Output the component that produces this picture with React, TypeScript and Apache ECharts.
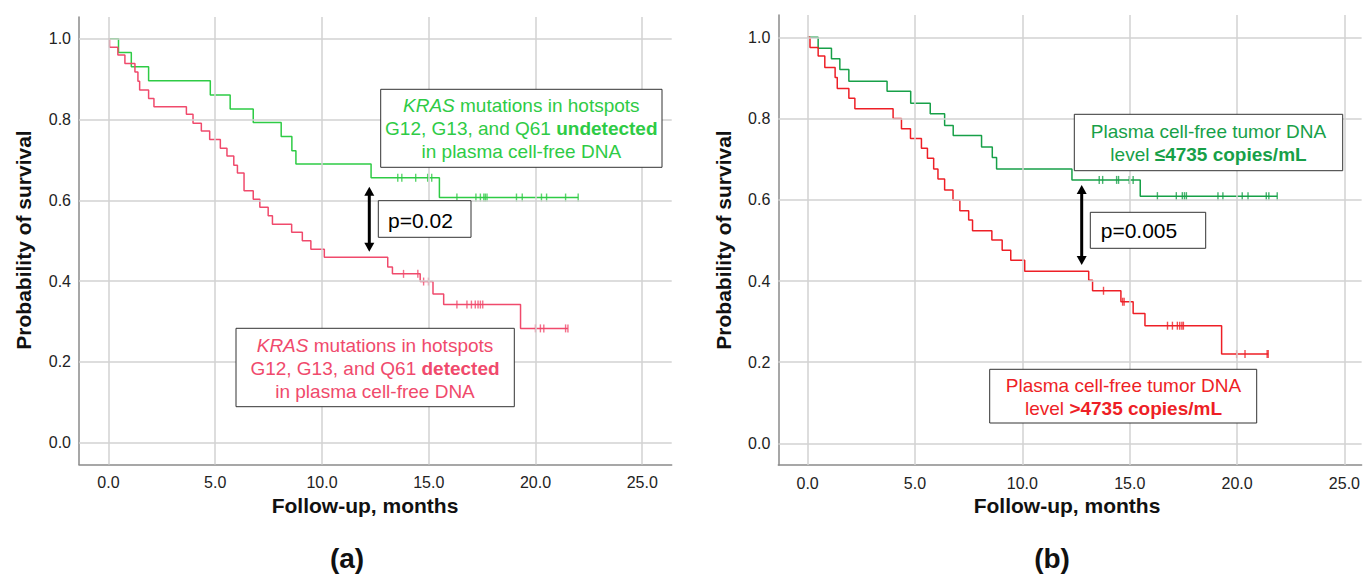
import React, { useEffect, useRef } from "react";
import * as echarts from "echarts";

// ---------- data ----------
const xTicks = [0, 5, 10, 15, 20, 25];
const yTicks = [0, 0.2, 0.4, 0.6, 0.8, 1.0];

// Panel (a): KRAS undetected (green)
const aGreenEventT = [0.47, 1.07, 1.88, 4.77, 5.7, 6.78, 8.09, 8.59, 8.78, 12.3, 15.5];
const aGreenEventS = [0.966, 0.931, 0.896, 0.861, 0.826, 0.793, 0.758, 0.723, 0.69, 0.656, 0.607];
const aGreenCensorT = [13.55, 13.74, 14.39, 14.95, 15.14, 16.32, 17.21, 17.42, 17.58, 17.65, 17.73, 19.11, 19.38, 20.28, 20.52, 21.41, 22.0];

// Panel (a): KRAS detected (red)
const aRedEventT = [0.05, 0.44, 0.77, 1.24, 1.38, 1.46, 1.88, 2.13, 3.65, 3.96, 4.35, 4.74, 5.24, 5.55, 5.87, 6.04, 6.35, 6.78, 7.09, 7.48, 7.68, 8.58, 9.08, 9.48, 10.11, 13.08, 13.3, 14.6, 15.2, 15.7, 19.3];
const aRedEventS = [0.979, 0.96, 0.939, 0.918, 0.895, 0.873, 0.852, 0.832, 0.813, 0.791, 0.772, 0.751, 0.729, 0.71, 0.687, 0.668, 0.624, 0.603, 0.583, 0.562, 0.541, 0.521, 0.5, 0.479, 0.459, 0.435, 0.418, 0.399, 0.368, 0.342, 0.283];
const aRedCensorT = [13.82, 14.49, 14.76, 14.99, 16.32, 16.79, 17.0, 17.18, 17.31, 17.42, 17.53, 20.0, 20.23, 20.39, 21.41, 21.52];

// Panel (b): ctDNA <= 4735 (green)
const bGreenEventT = [0.49, 1.11, 1.5, 1.92, 3.7, 4.8, 5.71, 6.38, 6.78, 8.1, 8.6, 8.8, 12.31, 15.49];
const bGreenEventS = [0.973, 0.947, 0.921, 0.892, 0.867, 0.838, 0.812, 0.783, 0.758, 0.73, 0.704, 0.676, 0.649, 0.609];
const bGreenCensorT = [13.58, 13.74, 14.39, 14.48, 14.98, 15.16, 16.29, 17.17, 17.45, 17.55, 17.64, 19.11, 19.34, 20.24, 20.51, 21.36, 21.48, 21.87];

// Panel (b): ctDNA > 4735 (red)
const bRedEventT = [0.11, 0.49, 0.8, 1.28, 1.38, 1.92, 2.2, 3.98, 4.37, 4.79, 5.3, 5.58, 5.87, 6.07, 6.38, 6.77, 7.09, 7.5, 7.68, 8.58, 9.06, 9.46, 10.11, 13.09, 13.27, 14.59, 15.16, 15.71, 19.28];
const bRedEventS = [0.975, 0.954, 0.926, 0.901, 0.874, 0.85, 0.824, 0.8, 0.775, 0.751, 0.727, 0.702, 0.676, 0.651, 0.624, 0.599, 0.573, 0.55, 0.524, 0.501, 0.476, 0.451, 0.424, 0.402, 0.376, 0.349, 0.32, 0.29, 0.22];
const bRedCensorT = [13.78, 14.67, 14.74, 16.76, 16.99, 17.22, 17.33, 17.43, 17.5, 19.98, 20.37, 21.4, 21.45];

// ---------- helpers ----------
const FONT = '"Liberation Sans", Arial, Helvetica, sans-serif';

function stepData(ts: number[], ss: number[], end: number) {
  const pts: number[][] = [[0, 1]];
  let prev = 1;
  ts.forEach((t, i) => {
    pts.push([t, prev]);
    pts.push([t, ss[i]]);
    prev = ss[i];
  });
  pts.push([end, prev]);
  return pts;
}
function survAt(ts: number[], ss: number[], t: number) {
  let s = 1;
  for (let i = 0; i < ts.length; i++) if (ts[i] <= t) s = ss[i];
  return s;
}
function censorData(ts: number[], ss: number[], cs: number[]) {
  return cs.map((c) => [c, survAt(ts, ss, c)]);
}

const C = {
  aGreen: "#2ecb45",
  aRed: "#f04a6c",
  bGreen: "#17a048",
  bRed: "#ee1f26",
};

function curveSeries(idx: number, ts: number[], ss: number[], cs: number[], color: string, name: string) {
  const end = Math.max(...cs);
  return [
    {
      name,
      type: "line",
      xAxisIndex: idx,
      yAxisIndex: idx,
      data: stepData(ts, ss, end),
      showSymbol: false,
      symbol: "none",
      lineStyle: { color, width: 1.5 },
      z: 3,
      silent: true,
    },
    {
      name: name + " censored",
      type: "scatter",
      xAxisIndex: idx,
      yAxisIndex: idx,
      data: censorData(ts, ss, cs),
      symbol: "rect",
      symbolSize: [1.4, 8],
      itemStyle: { color },
      z: 4,
      silent: true,
    },
  ];
}

function gridSeries(idx: number) {
  return {
    type: "line",
    xAxisIndex: idx,
    yAxisIndex: idx,
    data: [[0, 1]],
    symbol: "none",
    lineStyle: { width: 0, opacity: 0 },
    z: 1,
    silent: true,
    markLine: {
      silent: true,
      symbol: ["none", "none"],
      label: { show: false },
      lineStyle: { color: "#d2d2d2", width: 1.5, type: "solid" },
      emphasis: { disabled: true },
      data: [...yTicks.map((v) => ({ yAxis: v })), ...xTicks.map((v) => ({ xAxis: v }))],
    },
  };
}

function xAxis(idx: number, min: number, max: number) {
  return {
    type: "value",
    gridIndex: idx,
    min,
    max,
    axisLine: { show: true, onZero: false, lineStyle: { color: "#8a8a8a", width: 1.5 } },
    axisTick: { show: false },
    splitLine: { show: false },
    axisLabel: {
      customValues: xTicks,
      formatter: (v: number) => v.toFixed(1),
      fontSize: 16,
      fontFamily: FONT,
      color: "#222",
      margin: 10,
    },
  };
}
function yAxis(idx: number, min: number, max: number) {
  return {
    type: "value",
    gridIndex: idx,
    min,
    max,
    axisLine: { show: true, onZero: false, lineStyle: { color: "#8a8a8a", width: 1.5 } },
    axisTick: { show: false },
    splitLine: { show: false },
    axisLabel: {
      customValues: yTicks,
      formatter: (v: number) => v.toFixed(1),
      fontSize: 16,
      fontFamily: FONT,
      color: "#222",
      margin: 8,
    },
  };
}

function txt(x: number, y: number, text: string, size: number, opts: any = {}) {
  return {
    type: "text",
    x,
    y,
    rotation: opts.rotation || 0,
    z: 100,
    style: {
      text,
      fontSize: size,
      fontFamily: FONT,
      fontWeight: opts.bold ? "bold" : "normal",
      fill: opts.color || "#111",
      align: opts.align || "center",
      textAlign: opts.align || "center",
      verticalAlign: "middle",
      textVerticalAlign: "middle",
    },
  };
}

function rich(color: string) {
  const base = { fontSize: 19, fontFamily: FONT, fill: color, color, lineHeight: 23 };
  return {
    n: { ...base },
    i: { ...base, fontStyle: "italic" },
    b: { ...base, fontWeight: "bold" },
  };
}

function box(x: number, y: number, w: number, h: number) {
  return {
    type: "rect",
    z: 90,
    shape: { x, y, width: w, height: h },
    style: { fill: "#fff", stroke: "#333", lineWidth: 1 },
  };
}

function richText(cx: number, cy: number, text: string, color: string) {
  return {
    type: "text",
    x: cx,
    y: cy,
    z: 100,
    style: {
      text,
      rich: rich(color),
      fontSize: 19,
      fontFamily: FONT,
      fill: color,
      lineHeight: 23,
      align: "center",
      textAlign: "center",
      verticalAlign: "middle",
      textVerticalAlign: "middle",
    },
  };
}

function arrow(x: number, top: number, bottom: number) {
  const hh = 9;
  const hw = 5;
  return [
    {
      type: "line",
      z: 95,
      shape: { x1: x, y1: top + hh - 1, x2: x, y2: bottom - hh + 1 },
      style: { stroke: "#000", lineWidth: 3 },
    },
    {
      type: "polygon",
      z: 95,
      shape: { points: [[x, top], [x - hw, top + hh], [x + hw, top + hh]] },
      style: { fill: "#000" },
    },
    {
      type: "polygon",
      z: 95,
      shape: { points: [[x, bottom], [x - hw, bottom - hh], [x + hw, bottom - hh]] },
      style: { fill: "#000" },
    },
  ];
}

export default function App() {
  const ref = useRef<HTMLDivElement>(null);
  useEffect(() => {
    if (!ref.current) return;
    const chart = echarts.init(ref.current, null, { renderer: "svg" });
    const option: any = {
      animation: false,
      backgroundColor: "#fff",
      grid: [
        { left: 79, top: 17, width: 592.7, height: 447.5 },
        { left: 778.3, top: 15, width: 584.7, height: 450 },
      ],
      xAxis: [xAxis(0, -1.38, 26.38), xAxis(1, -1.366, 25.8)],
      yAxis: [yAxis(0, -0.054, 1.054), yAxis(1, -0.053, 1.055)],
      series: [
        gridSeries(0),
        gridSeries(1),
        ...curveSeries(0, aGreenEventT, aGreenEventS, aGreenCensorT, C.aGreen, "KRAS undetected"),
        ...curveSeries(0, aRedEventT, aRedEventS, aRedCensorT, C.aRed, "KRAS detected"),
        ...curveSeries(1, bGreenEventT, bGreenEventS, bGreenCensorT, C.bGreen, "ctDNA <=4735"),
        ...curveSeries(1, bRedEventT, bRedEventS, bRedCensorT, C.bRed, "ctDNA >4735"),
      ],
      graphic: [
        // axis titles
        txt(23.5, 240, "Probability of survival", 21, { bold: true, rotation: Math.PI / 2 }),
        txt(723.5, 240, "Probability of survival", 21, { bold: true, rotation: Math.PI / 2 }),
        txt(365, 505, "Follow-up, months", 21, { bold: true }),
        txt(1067, 505, "Follow-up, months", 21, { bold: true }),
        txt(347, 558, "(a)", 28, { bold: true }),
        txt(1052, 558, "(b)", 28, { bold: true }),
        // panel (a) boxes
        box(380.7, 89.3, 281.3, 78),
        richText(521.3, 128.5, "{i|KRAS}{n| mutations in hotspots}\n{n|G12, G13, and Q61 }{b|undetected}\n{n|in plasma cell-free DNA}", C.aGreen),
        box(236, 328.3, 278.3, 78.4),
        richText(375, 368, "{i|KRAS}{n| mutations in hotspots}\n{n|G12, G13, and Q61 }{b|detected}\n{n|in plasma cell-free DNA}", C.aRed),
        box(378.3, 200.7, 92.7, 36.6),
        txt(388, 220, "p=0.02", 21, { align: "left", color: "#000" }),
        ...arrow(369.3, 186.7, 251.7),
        // panel (b) boxes
        box(1074.3, 114.3, 268.4, 56.4),
        richText(1208.5, 143.3, "{n|Plasma cell-free tumor DNA}\n{n|level }{b|≤4735 copies/mL}", C.bGreen),
        box(989.7, 369.3, 267, 53.7),
        richText(1123.5, 397, "{n|Plasma cell-free tumor DNA}\n{n|level }{b|>4735 copies/mL}", C.bRed),
        box(1090.3, 212.3, 115.4, 36),
        txt(1100.7, 230.5, "p=0.005", 21, { align: "left", color: "#000" }),
        ...arrow(1081.7, 185, 265),
      ],
    };
    chart.setOption(option);
    return () => chart.dispose();
  }, []);
  return (
    <div
      ref={ref}
      style={{ position: "absolute", left: 0, top: 0, width: 1363, height: 575, background: "#fff" }}
    />
  );
}
